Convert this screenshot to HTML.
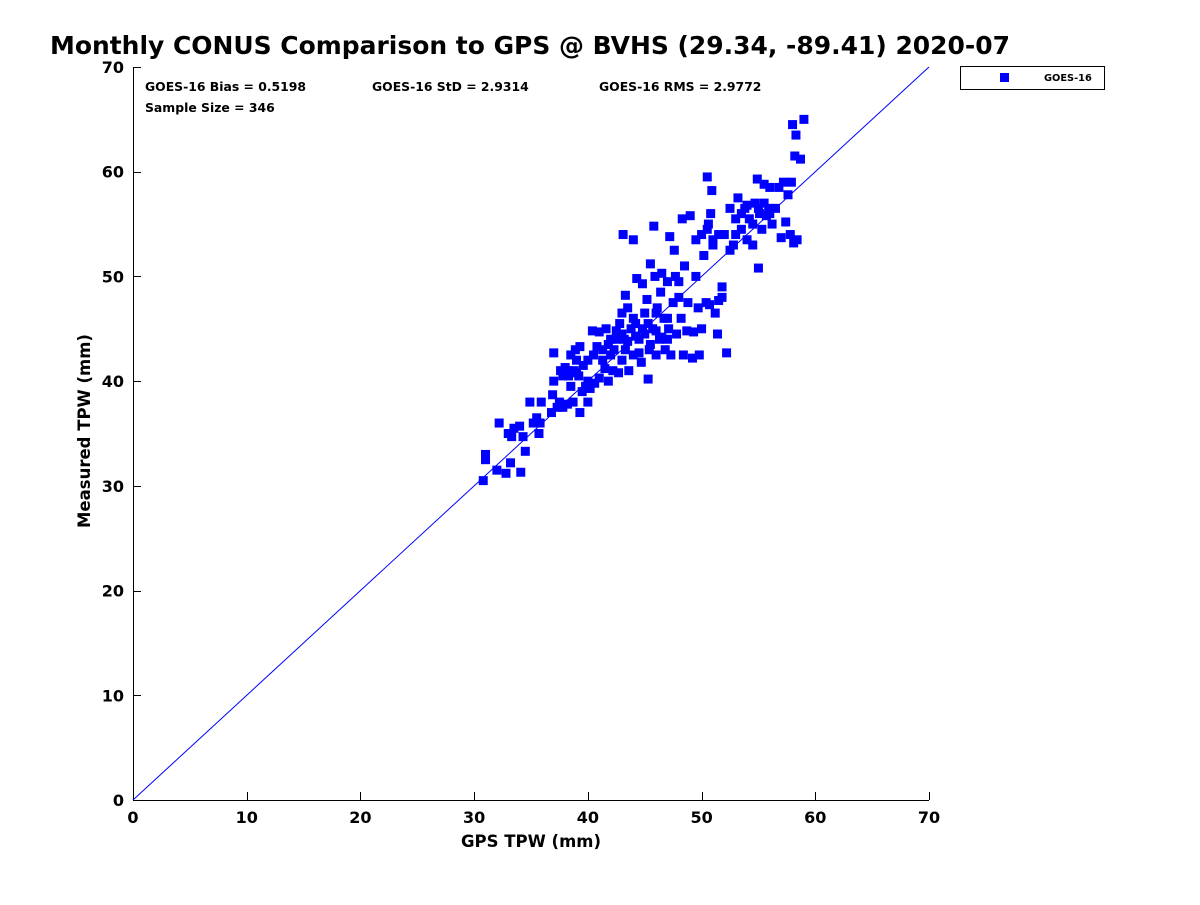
<!DOCTYPE html>
<html><head><meta charset="utf-8"><style>
body{margin:0;background:#fff}
svg text{font-family:"DejaVu Sans","Liberation Sans",sans-serif;font-weight:bold;fill:#000}
</style></head><body>
<svg id="chart" width="1200" height="900">
<text x="50" y="54" font-size="25" textLength="960" lengthAdjust="spacingAndGlyphs">Monthly CONUS Comparison to GPS @ BVHS (29.34, -89.41) 2020-07</text>
<g id="axes"></g>
<g id="pts"></g>
<text x="145" y="91" font-size="12.4">GOES-16 Bias = 0.5198</text>
<text x="372" y="91" font-size="12.4">GOES-16 StD = 2.9314</text>
<text x="599" y="91" font-size="12.4">GOES-16 RMS = 2.9772</text>
<text x="145" y="112" font-size="12.4">Sample Size = 346</text>
<g>
<rect x="960.5" y="66.5" width="144" height="23" fill="#fff" stroke="#000" stroke-width="1"/>
<rect x="1000" y="73" width="9" height="9" fill="#0000ff"/>
<text x="1044" y="81" font-size="9.8">GOES-16</text>
</g>
<text x="531" y="847" font-size="16.5" text-anchor="middle" fill="#262626">GPS TPW (mm)</text>
<text transform="translate(90,431) rotate(-90)" font-size="16.5" text-anchor="middle" fill="#262626">Measured TPW (mm)</text>
</svg>
<script>
const ticks=[0,10,20,30,40,50,60,70];
const gps=[30.8,31.0,31.0,32.0,32.2,32.8,33.0,33.2,33.3,33.5,34.0,34.1,34.3,34.5,34.9,35.2,35.5,35.7,35.8,35.9,36.8,36.9,37.0,37.0,37.3,37.5,37.6,37.8,38.0,38.2,38.3,38.5,38.5,38.7,38.8,38.9,39.0,39.2,39.3,39.3,39.5,39.6,39.8,40.0,40.0,40.2,40.4,40.5,40.6,40.8,41.0,41.0,41.3,41.5,41.6,41.8,41.8,42.0,42.2,42.3,42.5,42.7,42.8,43.0,43.0,43.1,43.2,43.3,43.5,43.6,43.8,44.0,44.0,44.2,44.3,44.5,44.7,44.8,45.0,45.2,45.3,45.4,45.5,45.7,45.8,45.9,46.0,46.1,46.3,46.4,46.5,46.7,46.8,47.0,47.1,47.2,47.3,47.5,47.6,47.7,47.8,48.0,48.0,48.2,48.3,48.4,48.5,48.7,48.8,49.0,49.2,49.3,49.5,49.7,49.8,50.0,50.2,50.4,50.5,50.6,50.8,50.9,51.0,51.2,51.4,51.5,51.8,51.8,52.2,52.5,52.5,53.0,53.2,53.5,53.8,54.0,54.2,54.5,54.7,54.9,55.0,55.1,55.3,55.5,55.7,55.9,56.0,56.2,56.5,56.8,57.0,57.2,57.4,57.6,57.8,57.9,58.0,58.1,58.2,58.3,58.4,58.7,59.0,
42.5,43.5,44.2,44.8,45.3,46.0,46.5,47.0,43.0,42.0,41.3,40.0,39.0,38.2,37.8,44.0,45.0,46.0,47.0,45.5,44.5,43.3,53.5,54.0,55.0,53.0,52.8,51.0,50.5,56.0,54.5,52.0,55.5,49.5,50.0,51.5,50.7];
const tpw=[30.5,32.5,33.0,31.5,36.0,31.2,35.0,32.2,34.7,35.5,35.7,31.3,34.7,33.3,38.0,36.0,36.5,35.0,36.0,38.0,37.0,38.7,40.0,42.7,37.5,38.0,41.0,37.5,41.3,37.8,40.5,39.5,42.5,38.0,41.0,43.0,42.0,40.5,43.3,37.0,39.0,41.5,39.5,38.0,40.0,39.3,44.8,42.5,39.8,43.3,40.3,44.7,42.0,41.2,45.0,40.0,43.5,42.5,41.0,43.0,44.0,40.8,45.5,42.0,46.5,54.0,44.0,48.2,47.0,41.0,45.0,42.5,53.5,45.5,49.8,44.0,41.8,49.3,44.5,47.8,40.2,43.0,51.2,45.0,54.8,50.0,42.5,47.0,44.0,48.5,50.3,46.0,43.0,49.5,45.0,53.8,42.5,47.5,52.5,50.0,44.5,48.0,49.5,46.0,55.5,42.5,51.0,44.8,47.5,55.8,42.2,44.7,53.5,47.0,42.5,54.0,52.0,47.5,59.5,55.0,56.0,58.2,53.0,46.5,44.5,54.0,49.0,48.0,42.7,56.5,52.5,55.5,57.5,54.5,56.5,53.5,55.5,53.0,57.0,59.3,50.8,56.0,54.5,58.8,55.8,56.5,58.5,55.0,56.5,58.5,53.7,59.0,55.2,57.8,54.0,59.0,64.5,53.2,61.5,63.5,53.5,61.2,65.0,
44.8,43.8,44.3,45.0,45.5,44.8,44.2,44.0,44.5,44.0,43.0,42.0,40.8,41.0,40.5,46.0,46.5,46.5,46.0,43.5,42.7,43.0,56.0,56.8,56.5,54.0,53.0,53.5,54.5,56.0,55.0,54.0,57.0,50.0,45.0,47.7,47.3];
const X0=133,X1=929,Y0=800,Y1=67;
const sx=v=>X0+(v-0)/70*(X1-X0);
const sy=v=>Y0-(v-0)/70*(Y0-Y1);
const NS='http://www.w3.org/2000/svg';
const ax=document.getElementById('axes');
function mk(tag,attrs,parent){const e=document.createElementNS(NS,tag);for(const k in attrs)e.setAttribute(k,attrs[k]);parent.appendChild(e);return e;}
let l=mk('line',{x1:X0,y1:Y0+0.5,x2:X1,y2:Y0+0.5,stroke:'#000'},ax);


l=mk('line',{x1:X0+0.5,y1:Y0,x2:X0+0.5,y2:Y1,stroke:'#000'},ax);


ticks.forEach(t=>{
  const x=Math.round(sx(t))+0.5,y=Math.round(sy(t))+0.5;
  let a=mk('line',{x1:x,y1:Y0,x2:x,y2:Y0-8,stroke:'#000'},ax);
  
  
  let b=mk('line',{x1:X0,y1:y,x2:X0+8,y2:y,stroke:'#000'},ax);
  
  
  let tx=mk('text',{x:sx(t),y:Y0+23,'font-size':16,'text-anchor':'middle',fill:'#262626'},ax);tx.textContent=t;
  
  
  let ty=mk('text',{x:X0-9,y:sy(t)+6,'font-size':16,'text-anchor':'end',fill:'#262626'},ax);ty.textContent=t;
  
  
});
const pg=document.getElementById('pts');
for(let i=0;i<gps.length;i++){
  const r=mk('rect',{x:sx(gps[i])-4.5,y:sy(tpw[i])-4.5,width:9,height:9,fill:'#0000ff'},pg);
  
  
}
const d=mk('line',{x1:sx(0),y1:sy(0),x2:sx(70),y2:sy(70),stroke:'#0000ff','stroke-width':1},pg);


</script>
</body></html>
